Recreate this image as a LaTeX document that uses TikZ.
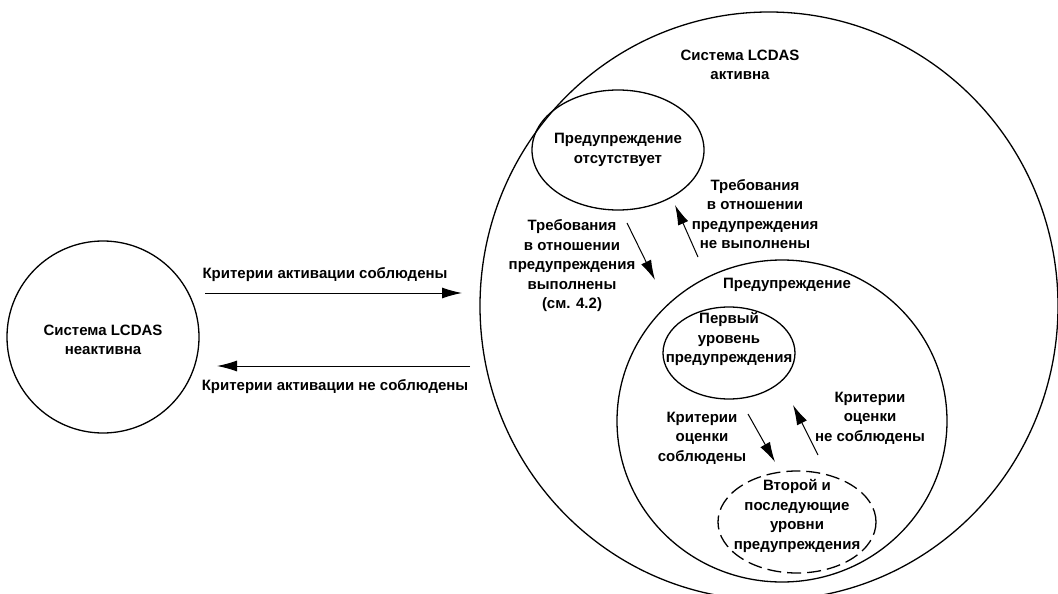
\documentclass[tikz,border=0pt]{standalone}
\usepackage{fontspec}
\setmainfont{Liberation Sans}
\usepackage{tikz}
\usetikzlibrary{shapes.geometric,arrows.meta,positioning}
\newcommand{\diagfont}{\fontsize{15}{19.5}\selectfont\bfseries}

\begin{document}
\begin{tikzpicture}[x=1pt,y=-1pt,line width=1.3pt,
  every node/.style={align=center,font=\diagfont,inner sep=0pt},
  state/.style={draw,ellipse},
  trans/.style={-{Latex[length=20pt,width=11pt]},line width=1pt}]
\useasboundingbox (0,0) rectangle (1058,594);
% states
\node[state,circle,minimum size=192pt] (off) at (103,337) {};
\node at (103,340) {Система LCDAS\\неактивна};
\node[state,minimum width=578pt,minimum height=588pt] (on) at (769,306) {};
\node (onlbl) at (740,65) {Система LCDAS\\активна};
\node[state,minimum width=172pt,minimum height=120pt] (none) at (618,150) {};
\node at (618,150) {Предупреждение\\отсутствует};
\node[state,minimum width=330pt,minimum height=322pt] (warn) at (782,421) {};
\node (warnlbl) at (787,285) {Предупреждение};
\node[state,minimum width=132pt,minimum height=92pt] (lvl1) at (729,353) {};
\node at (729,339) {Первый\\уровень\\предупреждения};
\node[state,dash pattern=on 14pt off 6pt,minimum width=158pt,minimum height=102pt] (lvl2) at (797,522) {};
\node at (797,516) {Второй и\\последующие\\уровни\\предупреждения};
% arrow ends
\coordinate (a1s) at (205,293); \coordinate (a1e) at (462,293);
\coordinate (a2s) at (470,366); \coordinate (a2e) at (217,366);
\coordinate (b1s) at (627,223); \coordinate (b1e) at (655,280);
\coordinate (b2s) at (698,257); \coordinate (b2e) at (675,205);
\coordinate (c1s) at (748,414); \coordinate (c1e) at (775,462);
\coordinate (c2s) at (818,455); \coordinate (c2e) at (793,405);
% transitions
\draw[trans] (a1s) -- (a1e);
\node at (325,275) {Критерии активации соблюдены};
\draw[trans] (a2s) -- (a2e);
\node at (335,387) {Критерии активации не соблюдены};
\draw[trans] (b1s) -- (b1e);
\node at (572,266) {Требования\\в отношении\\предупреждения\\выполнены\\(см. 4.2)};
\draw[trans] (b2s) -- (b2e);
\node at (755,214) {Требования\\в отношении\\предупреждения\\не выполнены};
\draw[trans] (c1s) -- (c1e);
\node at (702,438) {Критерии\\оценки\\соблюдены};
\draw[trans] (c2s) -- (c2e);
\node at (870,418) {Критерии\\оценки\\не соблюдены};
\end{tikzpicture}
\end{document}
